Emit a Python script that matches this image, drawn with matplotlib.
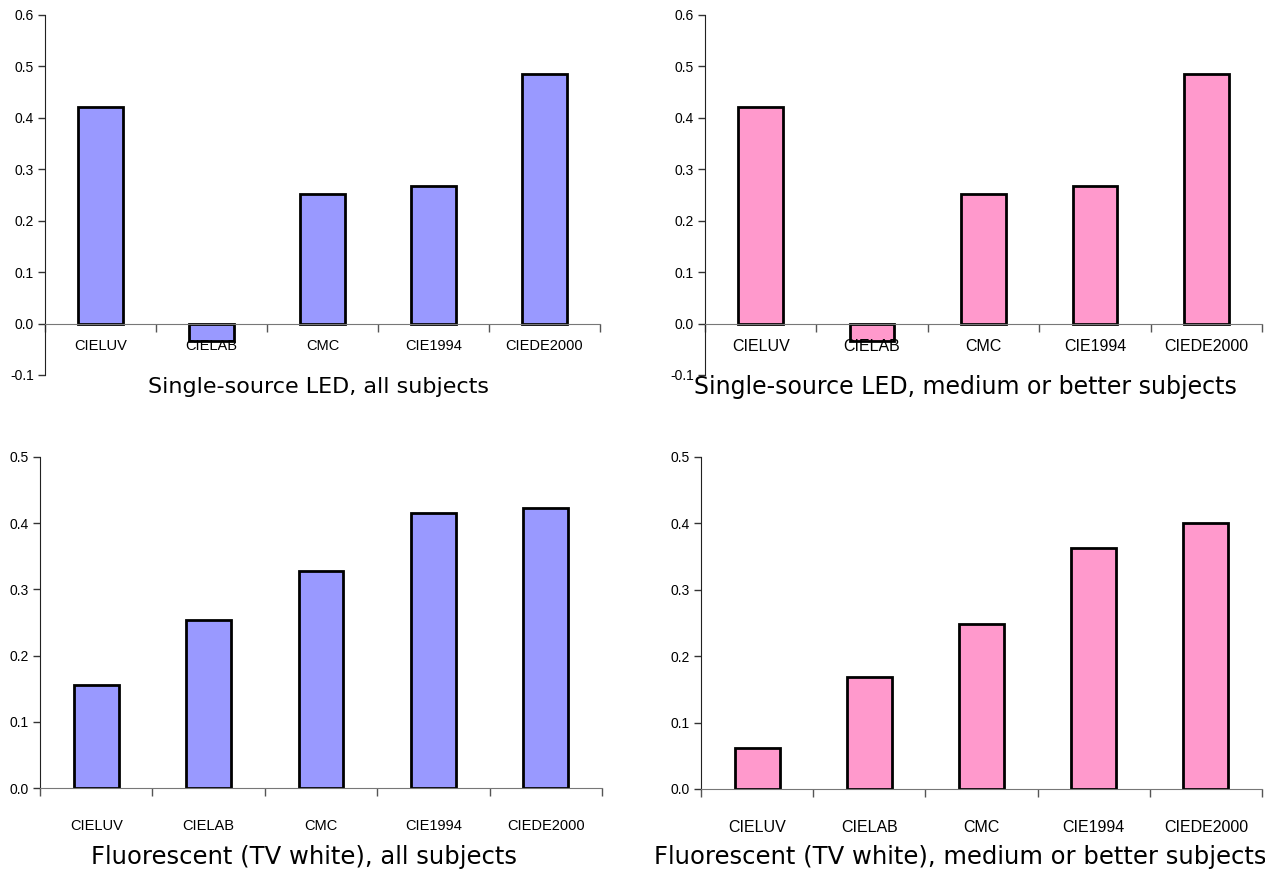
import matplotlib
matplotlib.use("Agg")
import matplotlib.pyplot as plt
import matplotlib.transforms as mtransforms
import numpy as np

# colour-difference formulas on the x axis
categories = ["CIELUV", "CIELAB", "CMC", "CIE1994", "CIEDE2000"]

led_all = [0.421, -0.033, 0.2525, 0.2675, 0.486]
led_medium = [0.421, -0.033, 0.2525, 0.2675, 0.486]
fluor_all = [0.155, 0.254, 0.328, 0.415, 0.423]
fluor_medium = [0.061, 0.168, 0.248, 0.363, 0.401]

titles = ["Single-source LED, all subjects",
          "Single-source LED, medium or better subjects",
          "Fluorescent (TV white), all subjects",
          "Fluorescent (TV white), medium or better subjects"]

blue = "#9999FF"
pink = "#FF99CC"

W, H = 1265, 874
fig = plt.figure(figsize=(W / 100, H / 100), dpi=100)


def px_axes(x0, x1, y0, y1):
    # pixel box -> figure fraction
    return fig.add_axes([x0 / W, 1 - y1 / H, (x1 - x0) / W, (y1 - y0) / H])


def draw_panel(ax, values, color, ylim, yticks, label_pad, label_size):
    x = np.arange(len(categories))
    ax.bar(x, values, width=0.4, color=color, edgecolor="black", linewidth=2.0, zorder=3)
    ax.set_xlim(-0.5, len(categories) - 0.5)
    ax.set_ylim(*ylim)
    ax.set_yticks(yticks)
    ax.set_yticklabels(["%.1f" % t for t in yticks], fontfamily="Liberation Sans", fontsize=10)
    ax.tick_params(axis="y", length=5, width=1, color="#333333", pad=3)
    for s in ["top", "right"]:
        ax.spines[s].set_visible(False)
    ax.spines["left"].set_color("#222222")
    ax.spines["bottom"].set_position(("data", 0))
    ax.spines["bottom"].set_color("#777777")
    ax.spines["bottom"].set_zorder(4)
    ax.set_xticks(np.arange(len(categories) + 1) - 0.5)
    ax.set_xticklabels([])
    ax.tick_params(axis="x", length=6, width=1, color="#555555", direction="out")
    trans = mtransforms.blended_transform_factory(ax.transData, ax.transAxes)
    zero_frac = (0 - ylim[0]) / (ylim[1] - ylim[0])
    for i, c in enumerate(categories):
        ax.annotate(c, xy=(i, zero_frac), xycoords=trans, xytext=(0, -label_pad),
                    textcoords="offset pixels", ha="center", va="top",
                    fontfamily="Liberation Sans", fontsize=label_size)


ax1 = px_axes(45, 600, 15, 375)
draw_panel(ax1, led_all, blue, (-0.1, 0.6), [-0.1, 0, 0.1, 0.2, 0.3, 0.4, 0.5, 0.6], 15, 10.5)
ax2 = px_axes(705, 1262, 15, 375)
draw_panel(ax2, led_medium, pink, (-0.1, 0.6), [-0.1, 0, 0.1, 0.2, 0.3, 0.4, 0.5, 0.6], 15, 11.5)
ax3 = px_axes(40, 602, 457, 788)
draw_panel(ax3, fluor_all, blue, (0, 0.5), [0, 0.1, 0.2, 0.3, 0.4, 0.5], 31, 10.5)
ax4 = px_axes(701, 1262, 457, 789)
draw_panel(ax4, fluor_medium, pink, (0, 0.5), [0, 0.1, 0.2, 0.3, 0.4, 0.5], 31, 11.5)

title_pos = [(318, 387), (965, 387), (304, 857), (960, 857)]
title_size = [16, 17, 17.5, 17.5]
for t, (tx, ty), fs in zip(titles, title_pos, title_size):
    fig.text(tx / W, 1 - ty / H, t, ha="center", va="center", fontsize=fs,
             fontfamily="DejaVu Sans", color="black")

fig.savefig("out.png", dpi=100)
